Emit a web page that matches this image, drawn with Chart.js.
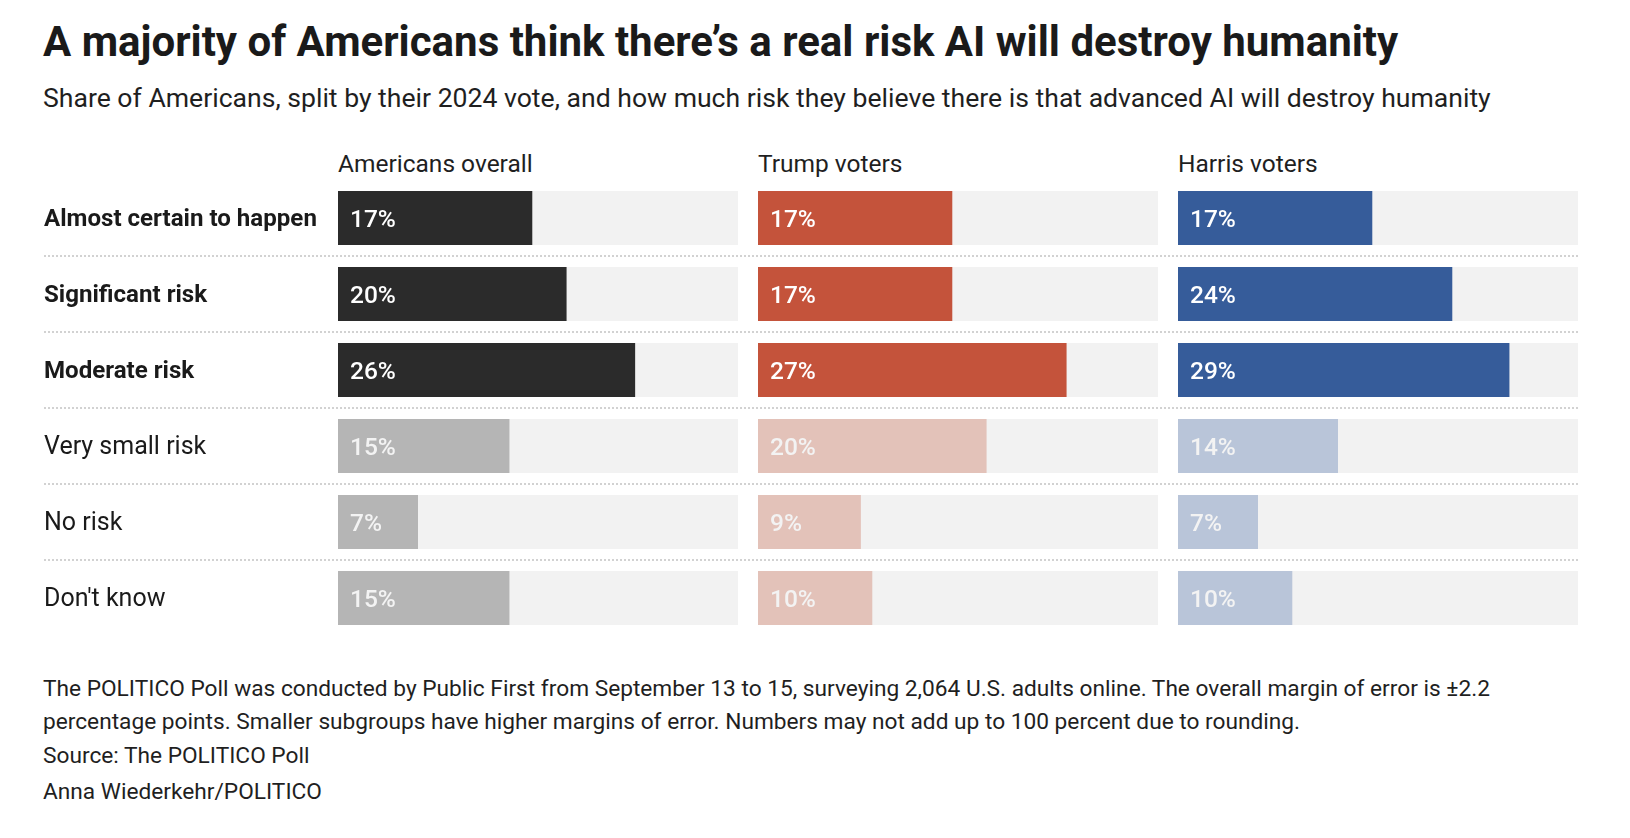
<!DOCTYPE html>
<html>
<head>
<meta charset="utf-8">
<script src="https://cdn.jsdelivr.net/npm/chart.js@4.4.1/dist/chart.umd.min.js"></script>
<style>
  body { margin: 0; background: #fff; font-family: Roboto, sans-serif; color: #1f1f1f; }
  .t { position: absolute; left: 43px; line-height: 1; white-space: nowrap; }
  #title { top: 21px; font-size: 42px; font-weight: 700; color: #1a1a1a; }
  #sub { top: 84.6px; font-size: 26.6px; }
  .head { position: absolute; top: 152px; font-size: 24.5px; line-height: 1; white-space: nowrap; }
  .foot { font-size: 22.7px; }
  canvas { position: absolute; top: 160px; }
</style>
</head>
<body>
<div class="t" id="title">A majority of Americans think there’s a real risk AI will destroy humanity</div>
<div class="t" id="sub">Share of Americans, split by their 2024 vote, and how much risk they believe there is that advanced AI will destroy humanity</div>

<div class="head" style="left:338px">Americans overall</div>
<div class="head" style="left:758px">Trump voters</div>
<div class="head" style="left:1178px">Harris voters</div>

<canvas id="c0" width="748" height="496" style="left:0px"></canvas>
<canvas id="c1" width="420" height="496" style="left:748px"></canvas>
<canvas id="c2" width="410" height="496" style="left:1168px"></canvas>

<div class="t foot" style="top:678px">The POLITICO Poll was conducted by Public First from September 13 to 15, surveying 2,064 U.S. adults online. The overall margin of error is ±2.2</div>
<div class="t foot" style="top:711px">percentage points. Smaller subgroups have higher margins of error. Numbers may not add up to 100 percent due to rounding.</div>
<div class="t foot" style="top:745px">Source: The POLITICO Poll</div>
<div class="t foot" style="top:781px">Anna Wiederkehr/POLITICO</div>

<script>
// risk answers, top to bottom
const categories = ['Almost certain to happen', 'Significant risk', 'Moderate risk', 'Very small risk', 'No risk', "Don't know"];

// share answering, in percent
const overall = [17, 20, 26, 15, 7, 15];
const trump = [17, 17, 27, 20, 9, 10];
const harris = [17, 24, 29, 14, 7, 10];

const axisMax = 35;
const strongRows = 3; // first three answers are bold / dark

const FONT = 'Roboto';

// dotted lines between the rows, run across the whole canvas
const separators = {
    id: 'separators',
    beforeDatasetsDraw(chart, args, opts) {
        const { ctx } = chart;
        const y = chart.scales.y;
        ctx.save();
        ctx.strokeStyle = '#d2d2d2';
        ctx.lineWidth = 2;
        ctx.setLineDash([2, 2]);
        for (let i = 0; i < categories.length - 1; i++) {
            const py = Math.round((y.getPixelForValue(i) + y.getPixelForValue(i + 1)) / 2);
            ctx.beginPath();
            ctx.moveTo(opts.from || 0, py);
            ctx.lineTo(chart.width, py);
            ctx.stroke();
        }
        ctx.restore();
    },
};

// "17%" inside each bar
const valueLabels = {
    id: 'valueLabels',
    afterDatasetsDraw(chart) {
        const { ctx } = chart;
        const meta = chart.getDatasetMeta(0);
        const values = chart.data.datasets[0].data;
        ctx.save();
        ctx.font = `500 24.5px ${FONT}`;
        ctx.textBaseline = 'middle';
        ctx.textAlign = 'left';
        meta.data.forEach((bar, i) => {
            ctx.fillStyle = i < strongRows ? '#ffffff' : '#f3f3f3';
            ctx.fillText(values[i] + '%', bar.base + 12, bar.y + 3);
        });
        ctx.restore();
    },
};

function panel(id, values, strong, light, showLabels, padding) {
    return new Chart(document.getElementById(id), {
        type: 'bar',
        data: {
            labels: categories,
            datasets: [
                {
                    data: values,
                    backgroundColor: values.map((v, i) => (i < strongRows ? strong : light)),
                    grouped: false,
                    barPercentage: 54 / 76,
                    categoryPercentage: 1,
                },
                {
                    data: categories.map(() => axisMax),
                    backgroundColor: '#f2f2f2',
                    grouped: false,
                    barPercentage: 54 / 76,
                    categoryPercentage: 1,
                },
            ],
        },
        options: {
            indexAxis: 'y',
            responsive: false,
            animation: false,
            devicePixelRatio: 1,
            layout: { padding },
            plugins: {
                legend: { display: false },
                tooltip: { enabled: false },
                separators: { from: showLabels ? 44 : 0 },
            },
            scales: {
                x: { display: false, min: 0, max: axisMax },
                y: {
                    display: showLabels,
                    grid: { display: false },
                    border: { display: false },
                    afterFit(scale) { if (showLabels) scale.width = 294; },
                    ticks: {
                        crossAlign: 'far',
                        padding: 0,
                        labelOffset: 2,
                        color: '#1a1a1a',
                        font: (c) => ({
                            family: FONT,
                            size: c.index < strongRows ? 24.1 : 25,
                            weight: c.index < strongRows ? 'bold' : 'normal',
                        }),
                    },
                },
            },
        },
        plugins: [separators, valueLabels],
    });
}

panel('c0', overall, '#2b2b2b', '#b5b5b5', true, { left: 44, right: 10, top: 20, bottom: 20 });
panel('c1', trump, '#c4533b', '#e3c2b9', false, { left: 10, right: 10, top: 20, bottom: 20 });
panel('c2', harris, '#365c9a', '#b9c5d9', false, { left: 10, right: 0, top: 20, bottom: 20 });
</script>
</body>
</html>
